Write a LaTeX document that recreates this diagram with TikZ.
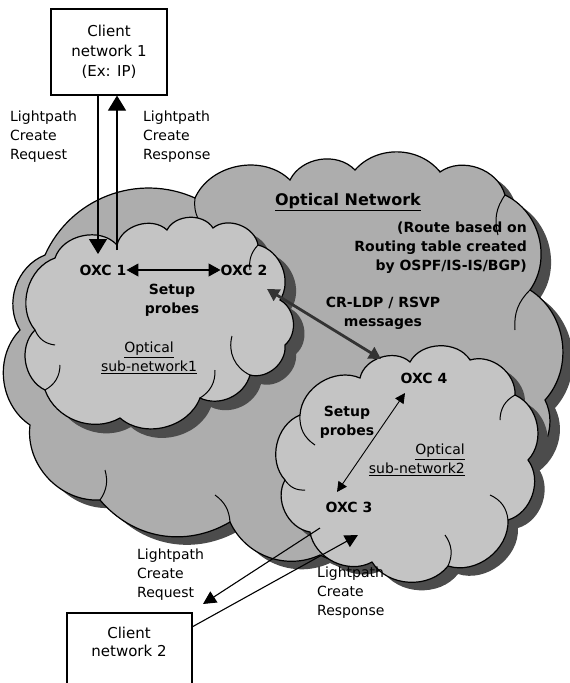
\documentclass[tikz,border=0pt]{standalone}
\usepackage{fontspec}
\setmainfont{DejaVu Sans}
\usetikzlibrary{arrows.meta}
\definecolor{bigc}{gray}{0.68}
\definecolor{subc}{gray}{0.77}
\definecolor{shadc}{gray}{0.30}
\tikzset{
  lbl/.style={inner sep=0pt, font=\fontsize{14}{19}\selectfont},
  blbl/.style={inner sep=0pt, font=\fontsize{14}{19}\selectfont\bfseries},
  conn/.style={line width=1.1pt},
  bigtip/.style={-{Triangle[length=15pt,width=18pt]}},
  midtip/.style={-{Triangle[length=13pt,width=13pt]}},
  bothmid/.style={{Triangle[length=12pt,width=13pt]}-{Triangle[length=12pt,width=13pt]}},
  bothsmall/.style={{Triangle[length=10pt,width=10pt]}-{Triangle[length=10pt,width=10pt]}},
  cloudline/.style={draw=black, line width=1.2pt},
  puff/.style={draw=black, line width=1pt},
}
\newcommand\BigCloudPath[1]{%
  \path[#1] (45,255) to[bend left=45] (195,198) to[bend left=55] (290,180)
  to[bend left=55] (355,170) to[bend left=50] (440,172) to[bend left=55] (505,195)
  to[bend left=50] (530,290) to[bend left=50] (545,400) to[bend left=50] (515,470)
  to[bend left=30] (420,530) to[bend left=40] (320,555) to[bend left=45] (230,522)
  to[bend left=40] (100,500) to[bend left=50] (30,425) to[bend left=50] (20,330)
  to[bend left=50] (45,255) -- cycle;}
\newcommand\SubOnePath[1]{%
  \path[#1] (55,258) to[bend left=60] (117,245) to[bend left=60] (167,230)
  to[bend left=60] (213,228) to[bend left=60] (258,245) to[bend left=55] (280,300)
  to[bend left=55] (285,345) to[bend left=55] (250,375) to[bend left=50] (200,398)
  to[bend left=55] (120,418) to[bend left=50] (45,390) to[bend left=55] (35,330)
  to[bend left=55] (55,258) -- cycle;}
\newcommand\SubTwoPath[1]{%
  \path[#1] (300,415) to[bend left=55] (360,378) to[bend left=60] (410,362)
  to[bend left=60] (470,360) to[bend left=55] (515,395) to[bend left=55] (528,460)
  to[bend left=55] (508,520) to[bend left=55] (448,566) to[bend left=55] (372,562)
  to[bend left=55] (310,532) to[bend left=55] (285,480) to[bend left=55] (300,415) -- cycle;}
\begin{document}
\begin{tikzpicture}[x=1pt,y=-1pt]
\fill[white] (0,0) rectangle (570,683);
\useasboundingbox (0,0) rectangle (570,683);

% clouds
\BigCloudPath{fill=shadc, shift={(10,8)}}
\BigCloudPath{fill=bigc, cloudline}
\draw[puff] (195,198) to[bend right=25] (205,228);
\draw[puff] (505,195) to[bend right=25] (498,235);
\draw[puff] (530,290) to[bend right=25] (515,330);
\draw[puff] (230,522) to[bend right=25] (215,495);
\draw[puff] (100,500) to[bend right=25] (105,470);
\SubOnePath{fill=shadc, shift={(11,9)}}
\SubOnePath{fill=subc, cloudline}
\draw[puff] (35,330) to[bend right=30] (55,345);
\draw[puff] (45,390) to[bend right=30] (60,365);
\draw[puff] (200,398) to[bend right=30] (215,370);
\draw[puff] (258,245) to[bend right=25] (250,270);
\draw[puff] (250,375) to[bend left=40] (232,336);
\SubTwoPath{fill=shadc, shift={(10,8)}}
\SubTwoPath{fill=subc, cloudline}
\draw[puff] (285,480) to[bend right=30] (305,490);
\draw[puff] (300,415) to[bend right=30] (315,445);
\draw[puff] (508,520) to[bend right=30] (490,495);
\draw[puff] (448,566) to[bend right=30] (445,535);
\draw[puff] (515,395) to[bend right=30] (500,420);

% client network 1
\node[draw, line width=1.1pt, minimum width=116pt, minimum height=86pt, inner sep=0pt] (c1) at (109,52) {};
\node[lbl, align=center, font=\fontsize{15}{20}\selectfont] (c1t) at (109,52) {Client\\network 1\\(Ex: IP)};
\node[lbl, align=left, anchor=west] (req1) at (10,137) {Lightpath\\Create\\Request};
\node[lbl, align=left, anchor=west] (res1) at (143,137) {Lightpath\\Create\\Response};
\coordinate (r1) at (98,254);
\coordinate (s1) at (117,250);
\draw[conn, bigtip] (c1.south -| r1) -- (r1);
\draw[conn, bigtip] (s1) -- (c1.south -| s1);

% sub-network 1
\node[blbl] (oxc1) at (103,270) {OXC 1};
\node[blbl] (oxc2) at (244,270) {OXC 2};
\draw[conn, bothmid] (oxc1.east) -- (oxc2.west);
\node[blbl, align=center] (sp1) at (172,300) {Setup\\probes};
\node[lbl, align=center] (osn1) at (149,358) {\underline{Optical}\\\underline{sub-network1}};

% optical network
\node[blbl, font=\fontsize{16}{19}\selectfont\bfseries] (on) at (348,202) {\underline{Optical Network}};
\node[blbl, align=right, anchor=east] (route) at (527,248) {(Route based on\\Routing table created\\by OSPF/IS-IS/BGP)};
\node[blbl, align=center] (cr) at (383,313) {CR-LDP / RSVP\\messages};
\node[blbl] (oxc4) at (424,378) {OXC 4};
\coordinate (crA) at (267,289);
\coordinate (crB) at (381,359);
\draw[line width=2.8pt, black!80, bothmid] (crA) -- (crB);

% sub-network 2
\node[blbl, align=center] (sp2) at (347,422) {Setup\\probes};
\node[lbl, align=right, anchor=east] (osn2) at (465,460) {\underline{Optical}\\\underline{sub-network2}};
\node[blbl] (oxc3) at (349,507) {OXC 3};
\coordinate (p4) at (405,393);
\coordinate (p3) at (337,492);
\draw[line width=0.9pt, bothsmall] (p4) -- (p3);

% client network 2
\draw[line width=1.1pt] (67,690) -- (67,613) -- (192,613) -- (192,690);
\node[lbl, align=center, font=\fontsize{15}{18}\selectfont] (c2) at (129,642) {Client\\network 2};
\node[lbl, align=left, anchor=west] (req2) at (137,575) {Lightpath\\Create\\Request};
\node[lbl, align=left, anchor=west] (res2) at (317,593) {Lightpath\\Create\\Response};
\coordinate (q3) at (320,528);
\coordinate (q2) at (203,604);
\coordinate (t2) at (192,627);
\coordinate (t3) at (358,535);
\draw[conn, midtip] (q3) -- (q2);
\draw[conn, midtip] (t2) -- (t3);
\end{tikzpicture}
\end{document}
